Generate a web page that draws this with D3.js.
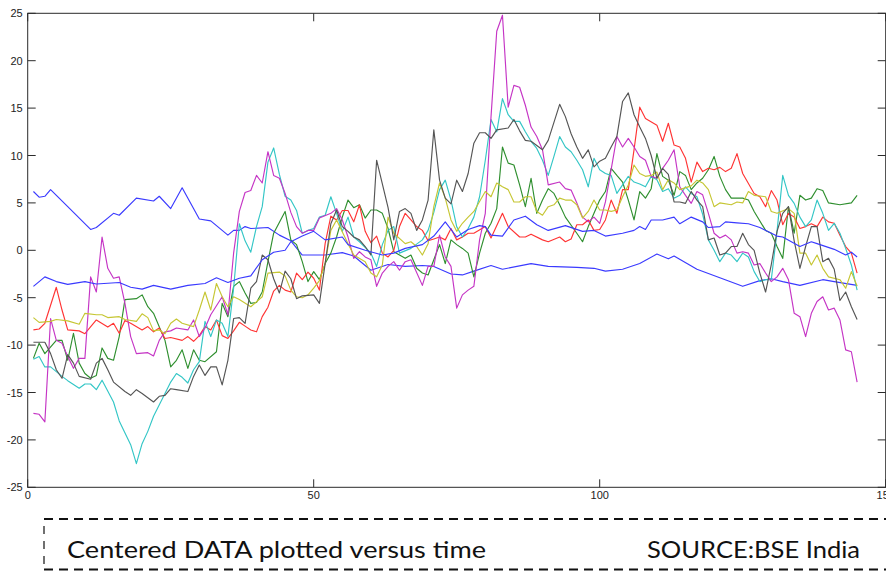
<!DOCTYPE html>
<html>
<head>
<meta charset="utf-8">
<script src="https://cdn.jsdelivr.net/npm/d3@7"></script>
<style>
  html, body { margin: 0; padding: 0; background: #ffffff; }
  svg { display: block; }
</style>
</head>
<body>
<svg id="chart" width="886" height="571"></svg>
<script>
// ---- data: [day, centered value] pairs ----
const blueA = [[1,6.2],[2,5.6],[3,5.7],[4,6.4],[7,4.6],[11,2.2],[12,2.4],[15,3.9],[16,3.7],[19,5.5],[22,5.2],[23,5.7],[25,4.4],[27,6.6],[30,3.3],[32,3.1],[35,1.6],[36,2.1],[37,2.1],[38,2.5],[39,2.3],[42,2.4],[44,1.6],[46,1.0],[48,-0.5],[52,-0.5],[55,-0.25],[57,-0.6],[60,-2.1],[63,-1.5],[66,-1.7],[69,-1.6],[71,-1.7],[74,-2.5],[76,-2.6],[78,-2.2],[81,-1.6],[83,-2.0],[88,-1.4],[91,-1.7],[96,-1.8],[99,-1.9],[101,-2.2],[104,-2.0],[107,-1.4],[110,-0.4],[112,-0.9],[113,-0.6],[117,-2.0],[121,-2.9],[125,-3.8],[128,-3.2],[130,-3.0],[132,-3.3],[135,-3.7],[139,-3.1],[141,-3.3],[145,-3.7]];
const blueB = [[1,-3.8],[3,-2.8],[5,-3.3],[7,-3.6],[10,-3.3],[12,-3.55],[16,-3.4],[18,-3.9],[20,-4.1],[22,-3.7],[25,-4.1],[28,-3.7],[31,-3.5],[33,-2.9],[35,-3.4],[37,-2.95],[39,-2.7],[41,-1.0],[43,-0.2],[45,0.0],[46,0.9],[48,1.5],[50,2.0],[52,1.1],[55,1.4],[56,0.6],[59,0.0],[62,-0.5],[64,-0.3],[66,0.2],[69,0.6],[71,1.5],[73,3.0],[75,1.4],[77,2.2],[79,2.6],[80,2.5],[81,1.6],[83,1.5],[85,3.2],[87,3.6],[89,2.7],[91,2.1],[94,2.6],[97,2.0],[99,2.1],[101,1.5],[104,1.8],[106,2.1],[107,2.5],[108,2.2],[109,3.2],[111,3.2],[113,3.5],[114,2.8],[116,3.5],[118,3.0],[119,2.4],[121,2.5],[122,3.0],[124,2.9],[126,2.8],[128,2.4],[131,1.5],[132,1.4],[135,0.4],[137,0.9],[138,0.7],[141,0.1],[143,-0.5],[144,-0.2],[145,-0.7]];
const green = [[1,-11.4],[2,-9.8],[3,-10.9],[5,-9.5],[6,-9.5],[7,-11.6],[8,-8.75],[9,-11.9],[10,-13.0],[11,-13.5],[12,-13.2],[13,-10.3],[14,-11.4],[15,-11.6],[16,-9.1],[17,-5.2],[19,-5.1],[20,-4.7],[21,-5.95],[22,-6.65],[24,-9.5],[25,-12.3],[26,-11.6],[27,-10.5],[28,-12.45],[29,-10.5],[30,-11.6],[31,-11.75],[33,-10.7],[34,-5.6],[35,-7.0],[36,-3.8],[37,-3.3],[38,-4.5],[39,-5.6],[40,-5.5],[41,-4.4],[42,-1.2],[43,1.8],[45,4.1],[46,1.1],[47,0.6],[48,-1.2],[49,-3.3],[50,-2.25],[51,-3.1],[52,-1.4],[53,-0.3],[54,1.4],[55,3.5],[56,5.3],[57,4.5],[58,4.8],[59,3.4],[60,4.25],[61,4.25],[62,3.9],[63,2.3],[64,-0.15],[65,-0.5],[66,-0.85],[67,-0.5],[68,-1.9],[69,-2.4],[70,-2.6],[71,-1.0],[72,0.6],[73,-1.4],[74,1.1],[75,0.6],[76,0.2],[77,-0.3],[78,-2.8],[79,-0.3],[80,1.8],[81,2.85],[82,4.4],[83,10.9],[84,9.2],[85,9.0],[86,6.9],[87,4.6],[88,7.6],[89,3.9],[90,5.3],[91,6.5],[92,6.0],[93,4.8],[94,3.5],[96,1.8],[97,0.9],[98,2.5],[99,3.9],[100,5.3],[101,6.2],[102,8.65],[103,7.9],[104,7.2],[105,5.3],[106,3.2],[107,6.2],[108,5.5],[109,6.5],[110,10.2],[111,7.8],[112,7.4],[113,5.8],[114,8.3],[115,7.9],[116,6.4],[117,7.1],[118,7.6],[119,8.5],[120,9.9],[121,7.8],[122,6.4],[123,5.5],[125,5.5],[126,5.3],[127,4.1],[129,2.1],[130,1.8],[131,0.4],[132,-0.85],[133,4.6],[134,1.8],[135,5.8],[136,5.3],[137,5.5],[138,6.5],[139,6.3],[140,5.0],[142,4.8],[144,5.0],[145,5.8]];
const red = [[1,-8.4],[2,-8.3],[3,-7.7],[5,-3.9],[6,-6.3],[7,-8.4],[9,-8.5],[10,-8.8],[12,-7.35],[14,-8.1],[15,-7.7],[16,-8.75],[17,-7.4],[18,-7.7],[20,-8.4],[21,-8.05],[22,-8.6],[23,-8.2],[24,-9.3],[25,-9.2],[27,-9.5],[28,-9.1],[29,-9.6],[30,-9.0],[31,-8.05],[32,-8.4],[33,-7.35],[34,-9.0],[35,-9.3],[36,-8.5],[37,-7.6],[38,-8.0],[39,-8.4],[40,-8.6],[41,-7.0],[42,-6.0],[43,-4.3],[44,-3.7],[45,-4.2],[46,-4.4],[47,-2.4],[48,-3.1],[49,-2.3],[50,-2.95],[51,-4.2],[52,0.7],[53,3.6],[54,3.2],[55,4.2],[56,4.2],[57,3.0],[58,4.8],[59,2.0],[60,0.8],[61,1.5],[62,-0.3],[63,-0.7],[64,0.0],[65,2.5],[66,3.9],[67,3.2],[68,2.5],[69,2.1],[70,1.0],[71,1.2],[72,1.4],[73,1.1],[74,2.3],[75,1.1],[76,1.4],[77,1.8],[78,1.8],[80,2.5],[81,1.3],[83,3.9],[84,2.5],[86,1.4],[87,1.4],[88,1.7],[90,1.1],[91,0.9],[93,1.4],[94,0.9],[95,1.2],[96,2.7],[97,2.7],[98,3.2],[99,2.1],[100,2.2],[101,3.2],[102,5.3],[103,3.9],[104,6.4],[105,6.4],[106,10.6],[107,15.1],[108,13.9],[110,13.2],[111,11.5],[112,13.4],[113,11.1],[114,10.9],[115,9.7],[116,7.2],[117,9.3],[118,8.3],[119,8.65],[120,8.5],[121,8.75],[122,8.3],[123,8.65],[124,10.2],[125,8.1],[127,6.0],[128,5.65],[129,4.6],[130,6.3],[131,5.3],[132,2.7],[133,3.9],[134,3.5],[135,2.3],[136,2.5],[137,2.8],[138,2.5],[139,3.5],[140,3.0],[141,2.85],[142,1.6],[143,0.4],[144,-0.3],[145,-2.4]];
const cyan = [[1,-11.5],[2,-11.2],[3,-12.3],[4,-12.3],[6,-13.3],[7,-13.75],[9,-14.55],[10,-14.1],[11,-14.1],[12,-14.7],[13,-13.7],[15,-16.0],[16,-18.0],[18,-20.5],[19,-22.5],[20,-20.4],[21,-19.1],[22,-17.5],[24,-15.1],[25,-13.9],[26,-13.0],[27,-13.4],[28,-14.0],[29,-12.6],[30,-11.75],[31,-7.5],[32,-9.1],[33,-7.35],[34,-7.7],[35,-9.1],[36,-4.0],[37,2.8],[38,1.0],[39,-0.2],[40,2.5],[41,4.6],[42,9.3],[43,10.8],[44,8.0],[45,5.7],[46,5.3],[47,4.2],[48,1.8],[49,2.1],[50,2.3],[51,3.5],[52,3.7],[53,5.65],[54,3.9],[55,2.0],[56,3.5],[57,1.4],[58,0.9],[60,-0.3],[61,-1.7],[62,0.6],[63,2.1],[64,2.5],[65,-0.3],[67,0.2],[69,1.1],[70,2.1],[71,4.0],[72,6.4],[73,7.4],[74,5.3],[75,2.5],[76,1.4],[77,2.3],[78,3.5],[79,5.65],[80,9.5],[81,13.8],[82,12.5],[83,16.0],[84,14.3],[85,13.6],[86,13.6],[87,12.5],[88,11.5],[89,10.75],[90,9.5],[91,7.9],[92,9.9],[93,12.0],[94,10.9],[95,10.4],[96,9.5],[97,8.5],[98,6.7],[99,9.7],[100,8.5],[101,8.1],[102,7.9],[103,6.0],[104,6.9],[105,7.8],[106,7.2],[107,7.0],[108,6.7],[109,7.8],[110,7.45],[111,6.2],[112,6.5],[113,5.5],[114,5.8],[115,6.7],[116,6.0],[117,5.65],[118,3.8],[119,1.1],[120,0.0],[121,-1.2],[122,-0.3],[123,-0.5],[124,-1.2],[125,-0.3],[126,-0.7],[127,-2.25],[128,-3.3],[129,-3.1],[130,-3.1],[131,2.0],[132,7.9],[133,5.8],[134,4.95],[135,3.5],[136,2.5],[137,3.2],[138,5.3],[139,3.9],[140,2.1],[141,2.85],[142,1.8],[143,0.2],[144,-1.55],[145,-4.2]];
const magenta = [[1,-17.2],[2,-17.3],[3,-18.1],[4,-7.2],[5,-9.5],[6,-9.8],[7,-11.2],[8,-12.45],[9,-11.4],[10,-11.4],[11,-2.8],[12,-4.4],[13,1.4],[14,-1.9],[15,-2.95],[16,-2.8],[17,-5.6],[18,-9.1],[19,-10.9],[21,-10.8],[22,-11.15],[23,-9.5],[24,-8.6],[25,-8.5],[26,-8.2],[28,-8.4],[29,-7.35],[30,-9.1],[31,-8.2],[32,-6.8],[34,-4.9],[35,-6.8],[36,-0.3],[37,4.1],[38,6.1],[39,6.3],[40,7.9],[41,7.1],[42,10.4],[43,7.9],[44,7.6],[45,6.0],[46,4.0],[47,2.5],[48,1.8],[49,2.1],[50,2.1],[51,3.4],[53,3.9],[54,4.4],[55,3.2],[56,1.4],[57,-0.85],[58,-0.15],[59,-0.7],[60,-1.0],[61,-3.8],[62,-2.4],[63,-1.7],[64,-1.2],[65,-2.1],[66,-1.2],[67,-1.0],[69,-3.7],[70,-1.7],[71,-1.7],[72,1.6],[73,-0.7],[74,-1.7],[75,-6.1],[76,-4.7],[77,-4.2],[78,-3.8],[79,1.1],[80,3.9],[81,14.1],[82,23.1],[83,24.8],[84,15.1],[85,17.4],[86,17.2],[87,15.3],[88,13.0],[89,12.0],[90,10.6],[91,6.9],[93,7.2],[94,6.5],[95,6.35],[96,5.0],[97,3.5],[98,3.0],[99,3.5],[100,2.85],[101,5.1],[102,8.5],[103,12.0],[104,10.9],[105,11.8],[106,10.9],[107,9.9],[108,9.5],[109,7.8],[110,7.6],[111,8.65],[112,9.5],[113,10.6],[114,6.7],[115,5.8],[116,4.95],[117,6.2],[118,5.85],[119,3.9],[120,1.8],[121,1.3],[122,1.6],[123,1.1],[124,-0.3],[125,-0.15],[126,-0.3],[127,-1.55],[128,-1.4],[129,-2.4],[130,-3.3],[131,-2.8],[132,-1.9],[133,-3.1],[134,-6.65],[135,-7.0],[136,-9.1],[137,-6.65],[138,-5.4],[139,-4.9],[140,-6.3],[141,-6.1],[142,-7.35],[143,-10.5],[144,-10.7],[145,-13.9]];
const yellow = [[1,-7.1],[2,-7.6],[4,-7.5],[5,-7.3],[7,-7.45],[9,-7.8],[10,-6.65],[12,-6.8],[13,-6.8],[14,-7.1],[16,-7.0],[17,-7.3],[19,-7.5],[20,-6.7],[21,-7.1],[22,-8.5],[23,-8.4],[24,-8.8],[25,-7.7],[26,-7.25],[27,-7.7],[29,-8.05],[30,-6.3],[31,-4.4],[32,-6.3],[33,-3.5],[34,-4.9],[35,-5.95],[36,-4.9],[37,-5.2],[39,-5.95],[41,-4.9],[42,-2.4],[44,-2.3],[45,-2.7],[46,-4.2],[47,-4.9],[48,-5.0],[49,-4.7],[50,-4.0],[51,-3.2],[52,-1.4],[53,2.1],[54,3.2],[56,0.7],[57,-0.5],[59,-1.2],[60,-2.4],[61,-2.8],[62,-1.55],[63,3.5],[64,1.8],[66,0.7],[67,0.9],[68,0.4],[69,-0.5],[70,0.7],[71,4.6],[72,7.1],[73,5.5],[74,3.2],[75,2.0],[76,2.85],[77,3.5],[78,4.1],[80,6.2],[81,5.65],[82,7.1],[83,6.7],[84,6.4],[85,5.1],[86,5.1],[87,5.65],[88,5.65],[89,4.1],[90,3.7],[91,4.6],[92,4.8],[93,5.5],[94,5.3],[95,5.3],[96,4.8],[97,3.4],[98,4.1],[99,5.3],[100,4.25],[101,4.25],[102,4.1],[103,4.25],[104,5.65],[105,6.9],[106,9.0],[107,8.1],[108,7.8],[109,7.9],[110,8.25],[111,6.4],[112,7.45],[113,7.1],[114,6.4],[116,6.8],[117,7.4],[118,7.1],[119,6.4],[120,4.6],[121,5.0],[123,4.8],[124,5.1],[125,5.0],[126,6.2],[127,5.8],[129,5.65],[130,4.1],[131,3.9],[133,4.4],[134,3.9],[135,-0.3],[136,-0.3],[137,-1.55],[138,-0.5],[139,-1.9],[140,-2.8],[142,-3.1],[143,-4.0],[144,-2.25],[145,-3.8]];
const black = [[1,-9.7],[3,-9.7],[4,-10.9],[5,-12.6],[6,-13.5],[7,-11.0],[8,-11.9],[9,-13.3],[11,-13.6],[12,-11.9],[13,-11.4],[14,-12.6],[15,-13.9],[17,-14.9],[18,-15.3],[19,-14.7],[20,-15.1],[22,-16.0],[23,-15.4],[24,-15.3],[25,-14.6],[26,-14.7],[28,-14.9],[29,-13.3],[30,-12.1],[31,-13.2],[32,-12.3],[33,-12.3],[34,-14.2],[35,-11.6],[36,-7.2],[37,-7.1],[38,-7.7],[39,-4.0],[40,-3.3],[41,-0.5],[42,-1.0],[43,-3.0],[44,-4.5],[45,-2.2],[46,-3.0],[47,-5.1],[48,-4.8],[50,-4.7],[51,-5.6],[52,-1.4],[53,2.8],[54,4.25],[55,2.5],[56,2.0],[57,1.4],[58,1.1],[59,0.4],[60,-0.5],[61,9.5],[62,7.0],[63,4.5],[64,1.1],[65,4.1],[66,4.4],[67,3.9],[68,2.1],[69,3.2],[70,5.3],[71,12.7],[72,7.4],[73,5.5],[74,4.9],[75,7.4],[76,6.2],[77,8.1],[78,11.3],[79,12.4],[80,12.4],[81,11.8],[82,12.7],[84,12.9],[85,13.8],[86,12.6],[87,11.6],[88,11.5],[90,10.6],[91,11.6],[93,15.4],[94,14.1],[95,12.3],[96,10.9],[97,9.7],[98,10.6],[99,8.8],[100,9.4],[101,9.7],[102,10.9],[103,12.0],[104,15.7],[105,16.6],[106,14.3],[107,13.0],[108,11.8],[109,10.0],[110,7.6],[111,8.65],[112,8.0],[113,5.1],[114,5.1],[115,4.95],[116,6.2],[117,5.3],[118,4.6],[119,1.1],[120,1.3],[121,-0.5],[122,-0.3],[123,0.4],[124,0.4],[125,1.8],[126,0.6],[127,0.0],[128,-2.4],[129,-4.4],[130,-1.5],[131,2.0],[132,3.9],[133,4.6],[134,1.0],[135,-1.9],[136,0.4],[137,2.5],[138,2.5],[139,-1.2],[140,-0.85],[141,-2.0],[142,-5.3],[143,-4.4],[144,-5.95],[145,-7.3]];

const seriesOrder = ["blueA", "green", "red", "cyan", "magenta", "yellow", "black", "blueB"];
const seriesData = { blueA, green, red, cyan, magenta, yellow, black, blueB };
const seriesColors = {
  blueA: "#3a3aff", green: "#2f8f2f", red: "#ff3434", cyan: "#33c6c6",
  magenta: "#c535c5", yellow: "#c6c633", black: "#555555", blueB: "#3a3aff"
};

const xTicks = [0, 50, 100, 150];
const yTicks = [-25, -20, -15, -10, -5, 0, 5, 10, 15, 20, 25];
const captionLeft = "Centered DATA plotted versus time";
const captionRight = "SOURCE:BSE India";

// ---- layout ----
const svg = d3.select("#chart");
const L = 27.7, R = 885.7, T = 13.3, B = 487.3;
const x = d3.scaleLinear().domain([0, 150]).range([L, R]);
const y = d3.scaleLinear().domain([-25, 25]).range([B, T]);

// series
const line = d3.line().x(d => x(d[0])).y(d => y(d[1]));
const g = svg.append("g");
seriesOrder.forEach(k => {
  g.append("path")
    .datum(seriesData[k])
    .attr("fill", "none")
    .attr("stroke", seriesColors[k])
    .attr("stroke-width", 1.15)
    .attr("stroke-linejoin", "round")
    .attr("d", line);
});

// frame and inward ticks
const axisColor = "#2b2b2b";
const tickLen = 8;
svg.append("rect")
  .attr("x", L).attr("y", T).attr("width", R - L).attr("height", B - T)
  .attr("fill", "none").attr("stroke", axisColor).attr("stroke-width", 1);

const fontTick = "'Liberation Sans', Arial, sans-serif";

xTicks.forEach(v => {
  svg.append("line").attr("x1", x(v)).attr("x2", x(v)).attr("y1", B).attr("y2", B - tickLen)
    .attr("stroke", axisColor);
  svg.append("line").attr("x1", x(v)).attr("x2", x(v)).attr("y1", T).attr("y2", T + tickLen)
    .attr("stroke", axisColor);
  svg.append("text").attr("x", x(v)).attr("y", B + 12)
    .attr("text-anchor", "middle").attr("font-family", fontTick).attr("font-size", 11)
    .attr("fill", "#222").text(v);
});

yTicks.forEach(v => {
  svg.append("line").attr("x1", L).attr("x2", L + tickLen).attr("y1", y(v)).attr("y2", y(v))
    .attr("stroke", axisColor);
  svg.append("line").attr("x1", R).attr("x2", R - tickLen).attr("y1", y(v)).attr("y2", y(v))
    .attr("stroke", axisColor);
  svg.append("text").attr("x", L - 5).attr("y", y(v) + 4)
    .attr("text-anchor", "end").attr("font-family", fontTick).attr("font-size", 11)
    .attr("fill", "#222").text(v);
});

// caption box (dashed)
const dash = "9,6";
svg.append("line").attr("x1", 44).attr("x2", 886).attr("y1", 519).attr("y2", 519)
  .attr("stroke", "#111").attr("stroke-width", 2).attr("stroke-dasharray", dash);
svg.append("line").attr("x1", 44).attr("x2", 886).attr("y1", 569.5).attr("y2", 569.5)
  .attr("stroke", "#111").attr("stroke-width", 2).attr("stroke-dasharray", dash);
svg.append("line").attr("x1", 44).attr("x2", 44).attr("y1", 526).attr("y2", 571)
  .attr("stroke", "#111").attr("stroke-width", 1.2).attr("stroke-dasharray", "8,7");

const fontCap = "Lato, 'Open Sans', sans-serif";
svg.append("text").attr("x", 67).attr("y", 558)
  .attr("font-family", fontCap).attr("font-size", 24).attr("fill", "#111")
  .attr("textLength", 419).attr("lengthAdjust", "spacingAndGlyphs")
  .text(captionLeft);
svg.append("text").attr("x", 647).attr("y", 558)
  .attr("font-family", fontCap).attr("font-size", 24).attr("fill", "#111")
  .attr("textLength", 213).attr("lengthAdjust", "spacingAndGlyphs")
  .text(captionRight);
</script>
</body>
</html>
